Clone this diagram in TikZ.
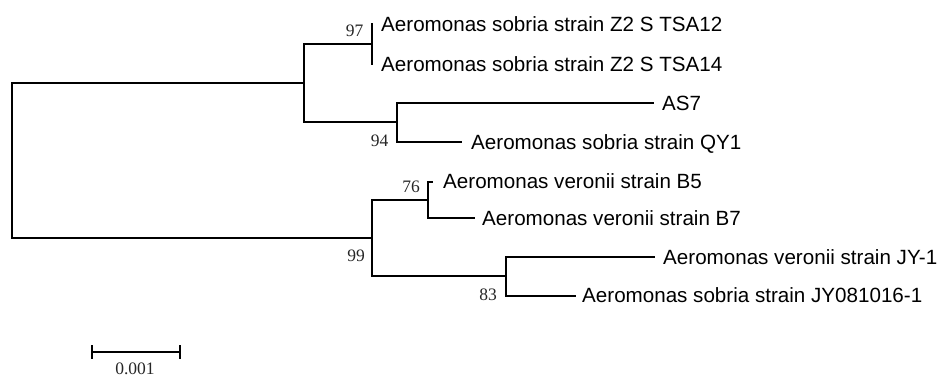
\documentclass[tikz,border=0pt]{standalone}
\usepackage{fontspec}
\setmainfont{Liberation Sans}
\newfontfamily\bootfont{Liberation Serif}
\begin{document}
\begin{tikzpicture}[x=1pt,y=-1pt,
  branch/.style={line width=2pt, line cap=rect, black},
  taxon/.style={anchor=base west, inner sep=0pt, font=\fontsize{20.6}{24}\selectfont},
  boot/.style={anchor=east, inner sep=0pt, text=black!85, font=\bootfont\fontsize{17.5}{20}\selectfont}]
\useasboundingbox (0,0) rectangle (938,379);
% internal nodes
\coordinate (R) at (12,160);
\coordinate (A) at (304,83);
\coordinate (N97) at (372,44);
\coordinate (N94) at (397,122);
\coordinate (N99) at (372,238);
\coordinate (N76) at (428,200);
\coordinate (N83) at (506,276);
% leaf tips
\coordinate (t1) at (372,24);
\coordinate (t2) at (372,64);
\coordinate (t3) at (653,103);
\coordinate (t4) at (461,142);
\coordinate (t5) at (432,182);
\coordinate (t6) at (474,218);
\coordinate (t7) at (654,257);
\coordinate (t8) at (575,296);
% branches
\draw[branch] (R) |- (A);
\draw[branch] (R) |- (N99);
\draw[branch] (A) |- (N97);
\draw[branch] (A) |- (N94);
\draw[branch] (N97) |- (t1);
\draw[branch] (N97) |- (t2);
\draw[branch] (N94) |- (t3);
\draw[branch] (N94) |- (t4);
\draw[branch] (N99) |- (N76);
\draw[branch] (N99) |- (N83);
\draw[branch] (N76) |- (t5);
\draw[branch] (N76) |- (t6);
\draw[branch] (N83) |- (t7);
\draw[branch] (N83) |- (t8);
% taxon labels
\node[taxon] (l1) at (381,31.3) {Aeromonas sobria strain Z2 S TSA12};
\node[taxon] (l2) at (381,71.3) {Aeromonas sobria strain Z2 S TSA14};
\node[taxon] (l3) at (662,110.3) {AS7};
\node[taxon] (l4) at (471,149.3) {Aeromonas sobria strain QY1};
\node[taxon] (l5) at (443,188.8) {Aeromonas veronii strain B5};
\node[taxon] (l6) at (482,225.8) {Aeromonas veronii strain B7};
\node[taxon] (l7) at (663,264.6) {Aeromonas veronii strain JY-1};
\node[taxon] (l8) at (582,303) {Aeromonas sobria strain JY081016-1};
% bootstrap values
\node[boot] (b97) at (363.5,31) {97};
\node[boot] (b94) at (388.5,141) {94};
\node[boot] (b76) at (420,187) {76};
\node[boot] (b99) at (365,256) {99};
\node[boot] (b83) at (497,295) {83};
% scale bar
\coordinate (s1) at (92,352);
\coordinate (s2) at (180,352);
\draw[branch, line cap=butt] (s1) -- (s2);
\draw[line width=2pt] ([yshift=-7pt]s1) -- ([yshift=7pt]s1);
\draw[line width=2pt] ([yshift=-7pt]s2) -- ([yshift=7pt]s2);
\node[inner sep=0pt, text=black!85, font=\bootfont\fontsize{17.5}{20}\selectfont] (sl) at (135,369) {0.001};
\end{tikzpicture}
\end{document}
